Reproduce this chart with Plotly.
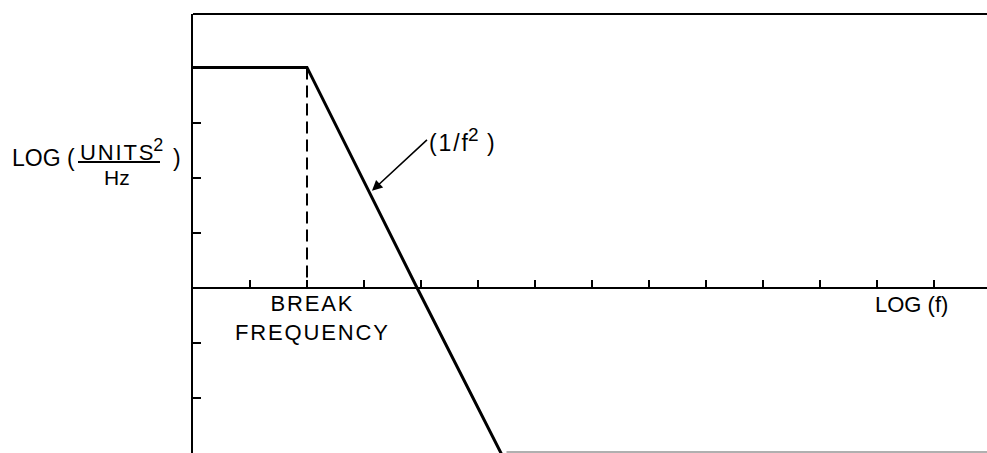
import plotly.graph_objects as go

# Idealised power spectral density: flat, then rolling off as 1/f^2 (log-log units)
log_f = [0.0, 2.0, 3.93, 5.55]
log_psd = [4.0, 4.0, 0.0, -3.3]

# Break frequency marker
break_f = [2.0, 2.0]
break_psd = [4.0, 0.0]

# Axis tick positions (unlabelled)
x_ticks = list(range(1, 14))
y_ticks = [-2, -1, 1, 2, 3, 4]

W, H = 987, 453
L, T = 193, 14
X_MAX = (W - L) / 57.0
Y_MIN, Y_MAX = -3.0, 4.97

def px(x):
    return (x - L) / (W - L)

def py(y):
    return (H - y) / (H - T)

def spaced(s):
    # widen the lettering with hair spaces
    return "\u200a".join(s)

fig = go.Figure()
fig.add_trace(go.Scatter(x=log_f, y=log_psd, mode="lines",
                         line=dict(color="black", width=3), hoverinfo="skip"))
fig.add_trace(go.Scatter(x=break_f, y=break_psd, mode="lines",
                         line=dict(color="black", width=2, dash="12px,6px"),
                         hoverinfo="skip"))

font = "Liberation Sans, Arial, sans-serif"

fig.update_layout(
    width=W, height=H,
    margin=dict(l=L, r=0, t=T, b=0, pad=0),
    paper_bgcolor="white", plot_bgcolor="white",
    showlegend=False,
    xaxis=dict(range=[0, X_MAX], anchor="free",
               position=(0 - Y_MIN) / (Y_MAX - Y_MIN),
               showline=True, linewidth=2, linecolor="black",
               ticks="inside", tickvals=x_ticks, ticklen=7, tickwidth=2,
               tickcolor="black", showticklabels=False,
               showgrid=False, zeroline=False),
    yaxis=dict(range=[Y_MIN, Y_MAX], showline=True, linewidth=2,
               linecolor="black", ticks="inside", tickvals=y_ticks,
               ticklen=8, tickwidth=2, tickcolor="black",
               showticklabels=False, showgrid=False, zeroline=False),
)

# Frame: top edge and faint bottom edge
fig.add_shape(type="line", xref="paper", yref="paper", x0=0, x1=1, y0=1, y1=1,
              line=dict(color="black", width=2))
fig.add_shape(type="line", xref="x", yref="paper", x0=5.5, x1=X_MAX, y0=0.002, y1=0.002,
              line=dict(color="#b0b0b0", width=2))

# Y-axis title built as a fraction
fig.add_shape(type="line", xref="paper", yref="paper",
              x0=px(78), x1=px(160), y0=py(162), y1=py(162),
              line=dict(color="black", width=2))

def text(s, x, y, size, xanchor="center"):
    fig.add_annotation(text=s, xref="paper", yref="paper", x=px(x), y=py(y),
                       xanchor=xanchor, yanchor="middle", showarrow=False,
                       font=dict(family=font, size=size, color="black"))

text("LOG (", 10, 158, 23, xanchor="left")
text(spaced("UNITS") + "<sup><span style='font-size:18px'>2</span></sup>", 121, 150, 22)
text("Hz", 117, 178, 21)
text(")", 171, 158, 23, xanchor="left")
text(spaced("BREAK") + "<br>" + spaced("FREQUENCY"), 311, 318, 22)
text("LOG (f)", 911, 304, 22)

# Slope label with an arrow pointing at the roll-off
slope_label = ("(\u200a1\u200a/\u200af<sup><span style='font-size:19px'>2</span></sup>"
               " \u200a)")
fig.add_annotation(x=3.14, y=1.76, xref="x", yref="y",
                   ax=55, ay=-51, axref="pixel", ayref="pixel",
                   text=slope_label,
                   xanchor="left", yanchor="middle", showarrow=True,
                   arrowhead=2, arrowsize=1.3, arrowwidth=1.6, arrowcolor="black",
                   font=dict(family=font, size=23, color="black"))

fig.write_html("out.html")
